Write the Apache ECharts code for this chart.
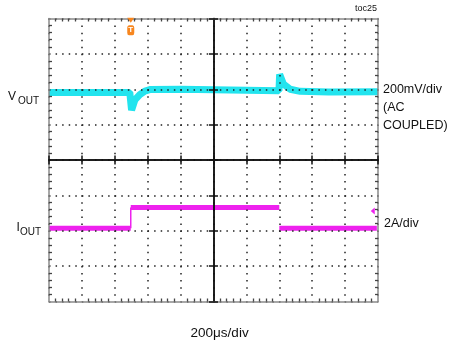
<!DOCTYPE html>
<html><head><meta charset="utf-8">
<script src="https://cdn.jsdelivr.net/npm/echarts@6/dist/echarts.min.js"></script>
<style>html,body{margin:0;padding:0;background:#fff}#c{width:450px;height:351px}</style>
</head><body><div id="c"></div>
<script>
// time in µs (200 µs/div), vertical values in screen divisions (-4..4)
const xMin = 0, xMax = 2000, xStep = 200;
const yMin = -4, yMax = 4, yStep = 1;

const voutTime = [0, 491, 502, 522, 552, 583, 613, 800, 1100, 1398, 1402, 1425, 1466, 1527, 1700, 2000];
const voutDiv  = [1.91, 1.91, 1.41, 1.70, 1.85, 1.95, 1.99, 2.0, 1.98, 1.96, 2.42, 2.15, 2.0, 1.94, 1.92, 1.93];

const ioutTime = [0, 497, null, 497, 1400, null, 1400, 1993];
const ioutDiv  = [-1.93, -1.93, null, -1.34, -1.34, null, -1.93, -1.93];
const ioutEdgeTime = [497, 497];
const ioutEdgeDiv  = [-1.93, -1.34];

const trigArrow = [497, 3.95];
const trigBadge = [497, 3.67];
const ioutMarker = [1968, -1.44];

const FONT = "'Liberation Sans', Arial, sans-serif";
const CYAN = '#22e4ee', MAG = '#ee22ee', ORANGE = '#f7861e';

function pairs(xs, ys){ return xs.map((x,i)=>[x===null?null:x, ys[i]===null?null:ys[i]]); }

const chart = echarts.init(document.getElementById('c'), null, {renderer:'canvas'});

const borderLine = {show:true, onZero:false, lineStyle:{color:'#8a8a8a', width:1.5}};
const minor = {show:true, splitNumber:5, length:3, lineStyle:{color:'#444', width:1.3}};
const noLabel = {show:false};

function xAx(extra){ return Object.assign({type:'value', min:xMin, max:xMax, interval:xStep, axisLabel:noLabel, splitLine:{show:false}, z:5}, extra); }
function yAx(extra){ return Object.assign({type:'value', min:yMin, max:yMax, interval:yStep, axisLabel:noLabel, splitLine:{show:false}, z:5}, extra); }

const centerLine = {show:true, onZero:false, lineStyle:{color:'#111', width:1.5}};

chart.setOption({
  animation:false,
  backgroundColor:'#fff',
  grid:{left:49, top:18.5, width:329, height:283, containLabel:false},
  xAxis:[
    xAx({position:'bottom', axisLine:borderLine, axisTick:{show:false, inside:true}, minorTick:minor,
         splitLine:{show:true, lineStyle:{color:'#222', width:1.5, type:[1.5,5.57]}}}),
    xAx({position:'top', axisLine:borderLine, axisTick:{show:false, inside:true}, minorTick:minor}),
    xAx({position:'bottom', offset:-141.5, axisLine:centerLine, axisTick:{show:true, inside:true, length:4.5, lineStyle:{color:'#111', width:1.5}}}),
    xAx({position:'bottom', offset:-141.5, axisLine:centerLine, axisTick:{show:true, inside:false, length:4.5, lineStyle:{color:'#111', width:1.5}}})
  ],
  yAxis:[
    yAx({position:'left', axisLine:borderLine, axisTick:{show:false, inside:true}, minorTick:minor,
         splitLine:{show:true, lineStyle:{color:'#222', width:1.5, type:[1.5,5.07]}}}),
    yAx({position:'right', axisLine:borderLine, axisTick:{show:false, inside:true}, minorTick:minor}),
    yAx({position:'left', offset:-164.5, axisLine:centerLine, axisTick:{show:true, inside:true, length:4.5, lineStyle:{color:'#111', width:1.5}}}),
    yAx({position:'left', offset:-164.5, axisLine:centerLine, axisTick:{show:true, inside:false, length:4.5, lineStyle:{color:'#111', width:1.5}}})
  ],
  series:[
    {type:'line', name:'VOUT', data:pairs(voutTime, voutDiv), showSymbol:false, z:2,
     lineStyle:{color:CYAN, width:7}, itemStyle:{color:CYAN},
     markPoint:{silent:true, z:6, data:[
       {coord:trigArrow, symbol:'triangle', symbolSize:[7,5], symbolRotate:180, itemStyle:{color:ORANGE}, label:{show:false}},
       {coord:trigBadge, symbol:'roundRect', symbolSize:[7,10], itemStyle:{color:ORANGE},
        label:{show:true, formatter:'T', color:'#fff', fontSize:8, fontWeight:'bold', fontFamily:FONT, position:'inside'}}
     ]}},
    {type:'line', name:'IOUT', data:pairs(ioutTime, ioutDiv), showSymbol:false, connectNulls:false, z:2,
     lineStyle:{color:MAG, width:5}, itemStyle:{color:MAG},
     markPoint:{silent:true, z:6, data:[
       {coord:ioutMarker, symbol:'triangle', symbolSize:[7,4], symbolRotate:90, itemStyle:{color:MAG}, label:{show:false}}
     ]}},
    {type:'line', name:'IOUT edge', data:pairs(ioutEdgeTime, ioutEdgeDiv), showSymbol:false, z:2,
     lineStyle:{color:MAG, width:1.5}}
  ],
  graphic:[
    {type:'text', style:{text:'V', x:8, y:96.5, font:'12px '+FONT, fill:'#111', textVerticalAlign:'middle', verticalAlign:'middle'}},
    {type:'text', style:{text:'OUT', x:18, y:101.5, font:'10px '+FONT, fill:'#111', textVerticalAlign:'middle', verticalAlign:'middle'}},
    {type:'text', style:{text:'I', x:16.5, y:227.5, font:'12px '+FONT, fill:'#111', textVerticalAlign:'middle', verticalAlign:'middle'}},
    {type:'text', style:{text:'OUT', x:20, y:232.2, font:'10px '+FONT, fill:'#111', textVerticalAlign:'middle', verticalAlign:'middle'}},
    {type:'text', style:{text:'200mV/div', x:383, y:89.7, font:'12.5px '+FONT, fill:'#111', textVerticalAlign:'middle', verticalAlign:'middle'}},
    {type:'text', style:{text:'(AC', x:383, y:107.7, font:'12.5px '+FONT, fill:'#111', textVerticalAlign:'middle', verticalAlign:'middle'}},
    {type:'text', style:{text:'COUPLED)', x:383, y:125.2, font:'12.5px '+FONT, fill:'#111', textVerticalAlign:'middle', verticalAlign:'middle'}},
    {type:'text', style:{text:'2A/div', x:384, y:223.7, font:'12.5px '+FONT, fill:'#111', textVerticalAlign:'middle', verticalAlign:'middle'}},
    {type:'text', style:{text:'toc25', x:355, y:8.9, font:'9px '+FONT, fill:'#111', textVerticalAlign:'middle', verticalAlign:'middle'}},
    {type:'text', style:{text:'200μs/div', x:219.6, y:333.3, font:'13.5px '+FONT, fill:'#111', textAlign:'center', align:'center', textVerticalAlign:'middle', verticalAlign:'middle'}}
  ]
});
</script>
</body></html>
